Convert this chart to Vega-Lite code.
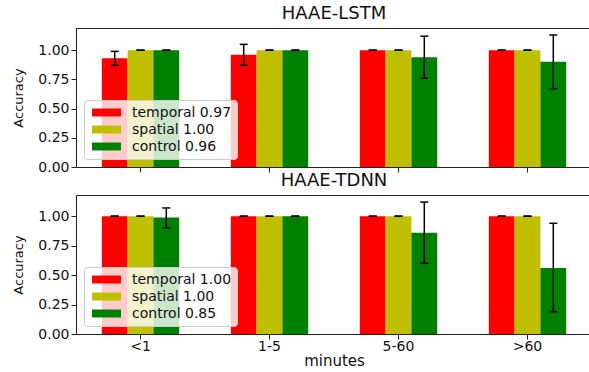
{
  "$schema": "https://vega.github.io/schema/vega-lite/v6.json",
  "padding": {"left": 12, "top": 4, "right": 0, "bottom": 0},
  "config": {
    "font": "DejaVu Sans",
    "view": {"stroke": "#222", "strokeWidth": 1},
    "axis": {"domainColor": "#222", "tickColor": "#222", "labelColor": "#111", "titleColor": "#111", "labelFontSize": 14, "titleFontWeight": "normal", "grid": false, "tickSize": 5, "labelPadding": 2, "labelOverlap": false},
    "title": {"fontSize": 18, "fontWeight": "normal", "color": "#111", "offset": 5},
    "legend": {"title": null, "orient": "bottom-left", "offset": 8, "symbolType": "M-2,-0.55H2V0.55H-2Z", "symbolSize": 210, "labelFontSize": 14, "labelColor": "#111", "fillColor": "rgba(255,255,255,0.8)", "strokeColor": "#cccccc", "cornerRadius": 3, "padding": 5, "rowPadding": 2, "labelOffset": 18, "symbolOffset": 10, "symbolStrokeWidth": 0, "symbolOpacity": 1},
    "concat": {"spacing": 28}
  },
  "datasets": {
    "lstm": [
      {"cat": "<1", "series": "temporal", "label": "temporal 0.97", "value": 0.93, "lo": 0.87, "hi": 0.99},
      {"cat": "<1", "series": "spatial", "label": "spatial 1.00", "value": 1.0, "lo": 1.0, "hi": 1.0},
      {"cat": "<1", "series": "control", "label": "control 0.96", "value": 1.0, "lo": 1.0, "hi": 1.0},
      {"cat": "1-5", "series": "temporal", "label": "temporal 0.97", "value": 0.96, "lo": 0.87, "hi": 1.05},
      {"cat": "1-5", "series": "spatial", "label": "spatial 1.00", "value": 1.0, "lo": 1.0, "hi": 1.0},
      {"cat": "1-5", "series": "control", "label": "control 0.96", "value": 1.0, "lo": 1.0, "hi": 1.0},
      {"cat": "5-60", "series": "temporal", "label": "temporal 0.97", "value": 1.0, "lo": 1.0, "hi": 1.0},
      {"cat": "5-60", "series": "spatial", "label": "spatial 1.00", "value": 1.0, "lo": 1.0, "hi": 1.0},
      {"cat": "5-60", "series": "control", "label": "control 0.96", "value": 0.94, "lo": 0.76, "hi": 1.12},
      {"cat": ">60", "series": "temporal", "label": "temporal 0.97", "value": 1.0, "lo": 1.0, "hi": 1.0},
      {"cat": ">60", "series": "spatial", "label": "spatial 1.00", "value": 1.0, "lo": 1.0, "hi": 1.0},
      {"cat": ">60", "series": "control", "label": "control 0.96", "value": 0.9, "lo": 0.67, "hi": 1.13}
    ],
    "tdnn": [
      {"cat": "<1", "series": "temporal", "label": "temporal 1.00", "value": 1.0, "lo": 1.0, "hi": 1.0},
      {"cat": "<1", "series": "spatial", "label": "spatial 1.00", "value": 1.0, "lo": 1.0, "hi": 1.0},
      {"cat": "<1", "series": "control", "label": "control 0.85", "value": 0.99, "lo": 0.9, "hi": 1.07},
      {"cat": "1-5", "series": "temporal", "label": "temporal 1.00", "value": 1.0, "lo": 1.0, "hi": 1.0},
      {"cat": "1-5", "series": "spatial", "label": "spatial 1.00", "value": 1.0, "lo": 1.0, "hi": 1.0},
      {"cat": "1-5", "series": "control", "label": "control 0.85", "value": 1.0, "lo": 1.0, "hi": 1.0},
      {"cat": "5-60", "series": "temporal", "label": "temporal 1.00", "value": 1.0, "lo": 1.0, "hi": 1.0},
      {"cat": "5-60", "series": "spatial", "label": "spatial 1.00", "value": 1.0, "lo": 1.0, "hi": 1.0},
      {"cat": "5-60", "series": "control", "label": "control 0.85", "value": 0.86, "lo": 0.6, "hi": 1.12},
      {"cat": ">60", "series": "temporal", "label": "temporal 1.00", "value": 1.0, "lo": 1.0, "hi": 1.0},
      {"cat": ">60", "series": "spatial", "label": "spatial 1.00", "value": 1.0, "lo": 1.0, "hi": 1.0},
      {"cat": ">60", "series": "control", "label": "control 0.85", "value": 0.56, "lo": 0.19, "hi": 0.94}
    ]
  },
  "bounds": "flush",
  "vconcat": [
    {
      "title": "HAAE-LSTM",
      "width": 516,
      "height": 139,
      "data": {"name": "lstm"},
      "encoding": {
        "x": {"field": "cat", "type": "nominal", "sort": ["<1", "1-5", "5-60", ">60"], "scale": {"paddingInner": 0.4, "paddingOuter": 0.2}, "axis": {"labels": false, "title": null}},
        "xOffset": {"field": "series", "type": "nominal", "sort": ["temporal", "spatial", "control"], "scale": {"paddingInner": 0, "paddingOuter": 0}}
      },
      "layer": [
        {
          "mark": {"type": "bar"},
          "encoding": {
            "y": {"field": "value", "type": "quantitative", "title": "Accuracy", "scale": {"domain": [0, 1.19], "nice": false}, "axis": {"values": [0, 0.25, 0.5, 0.75, 1], "format": ".2f", "titleFontSize": 13, "titlePadding": 12, "labelOverlap": false, "labelFlush": false}},
            "color": {"field": "label", "type": "nominal", "scale": {"domain": ["temporal 0.97", "spatial 1.00", "control 0.96"], "range": ["#ff0000", "#bfbf00", "#008000"]}}
          }
        },
        {
          "mark": {"type": "rule", "color": "black", "strokeWidth": 1.5},
          "encoding": {"y": {"field": "lo", "type": "quantitative", "title": "Accuracy", "axis": {"values": [0, 0.25, 0.5, 0.75, 1], "format": ".2f", "titleFontSize": 13, "titlePadding": 12, "labelOverlap": false, "labelFlush": false}}, "y2": {"field": "hi"}}
        },
        {
          "mark": {"type": "tick", "color": "black", "size": 8, "thickness": 1.5, "opacity": 1},
          "encoding": {"y": {"field": "lo", "type": "quantitative", "title": "Accuracy", "axis": {"values": [0, 0.25, 0.5, 0.75, 1], "format": ".2f", "titleFontSize": 13, "titlePadding": 12, "labelOverlap": false, "labelFlush": false}}}
        },
        {
          "mark": {"type": "tick", "color": "black", "size": 8, "thickness": 1.5, "opacity": 1},
          "encoding": {"y": {"field": "hi", "type": "quantitative", "title": "Accuracy", "axis": {"values": [0, 0.25, 0.5, 0.75, 1], "format": ".2f", "titleFontSize": 13, "titlePadding": 12, "labelOverlap": false, "labelFlush": false}}}
        }
      ]
    },
    {
      "title": "HAAE-TDNN",
      "width": 516,
      "height": 139,
      "data": {"name": "tdnn"},
      "encoding": {
        "x": {"field": "cat", "type": "nominal", "sort": ["<1", "1-5", "5-60", ">60"], "scale": {"paddingInner": 0.4, "paddingOuter": 0.2}, "axis": {"title": "minutes", "titleFontSize": 15, "titleFontWeight": "normal", "labelAngle": 0, "labelPadding": 0, "titlePadding": 0}},
        "xOffset": {"field": "series", "type": "nominal", "sort": ["temporal", "spatial", "control"], "scale": {"paddingInner": 0, "paddingOuter": 0}}
      },
      "layer": [
        {
          "mark": {"type": "bar"},
          "encoding": {
            "y": {"field": "value", "type": "quantitative", "title": "Accuracy", "scale": {"domain": [0, 1.18], "nice": false}, "axis": {"values": [0, 0.25, 0.5, 0.75, 1], "format": ".2f", "titleFontSize": 13, "titlePadding": 12, "labelOverlap": false, "labelFlush": false}},
            "color": {"field": "label", "type": "nominal", "scale": {"domain": ["temporal 1.00", "spatial 1.00", "control 0.85"], "range": ["#ff0000", "#bfbf00", "#008000"]}}
          }
        },
        {
          "mark": {"type": "rule", "color": "black", "strokeWidth": 1.5},
          "encoding": {"y": {"field": "lo", "type": "quantitative", "title": "Accuracy", "axis": {"values": [0, 0.25, 0.5, 0.75, 1], "format": ".2f", "titleFontSize": 13, "titlePadding": 12, "labelOverlap": false, "labelFlush": false}}, "y2": {"field": "hi"}}
        },
        {
          "mark": {"type": "tick", "color": "black", "size": 8, "thickness": 1.5, "opacity": 1},
          "encoding": {"y": {"field": "lo", "type": "quantitative", "title": "Accuracy", "axis": {"values": [0, 0.25, 0.5, 0.75, 1], "format": ".2f", "titleFontSize": 13, "titlePadding": 12, "labelOverlap": false, "labelFlush": false}}}
        },
        {
          "mark": {"type": "tick", "color": "black", "size": 8, "thickness": 1.5, "opacity": 1},
          "encoding": {"y": {"field": "hi", "type": "quantitative", "title": "Accuracy", "axis": {"values": [0, 0.25, 0.5, 0.75, 1], "format": ".2f", "titleFontSize": 13, "titlePadding": 12, "labelOverlap": false, "labelFlush": false}}}
        }
      ]
    }
  ],
  "resolve": {"scale": {"color": "independent", "y": "independent"}, "legend": {"color": "independent"}}
}
